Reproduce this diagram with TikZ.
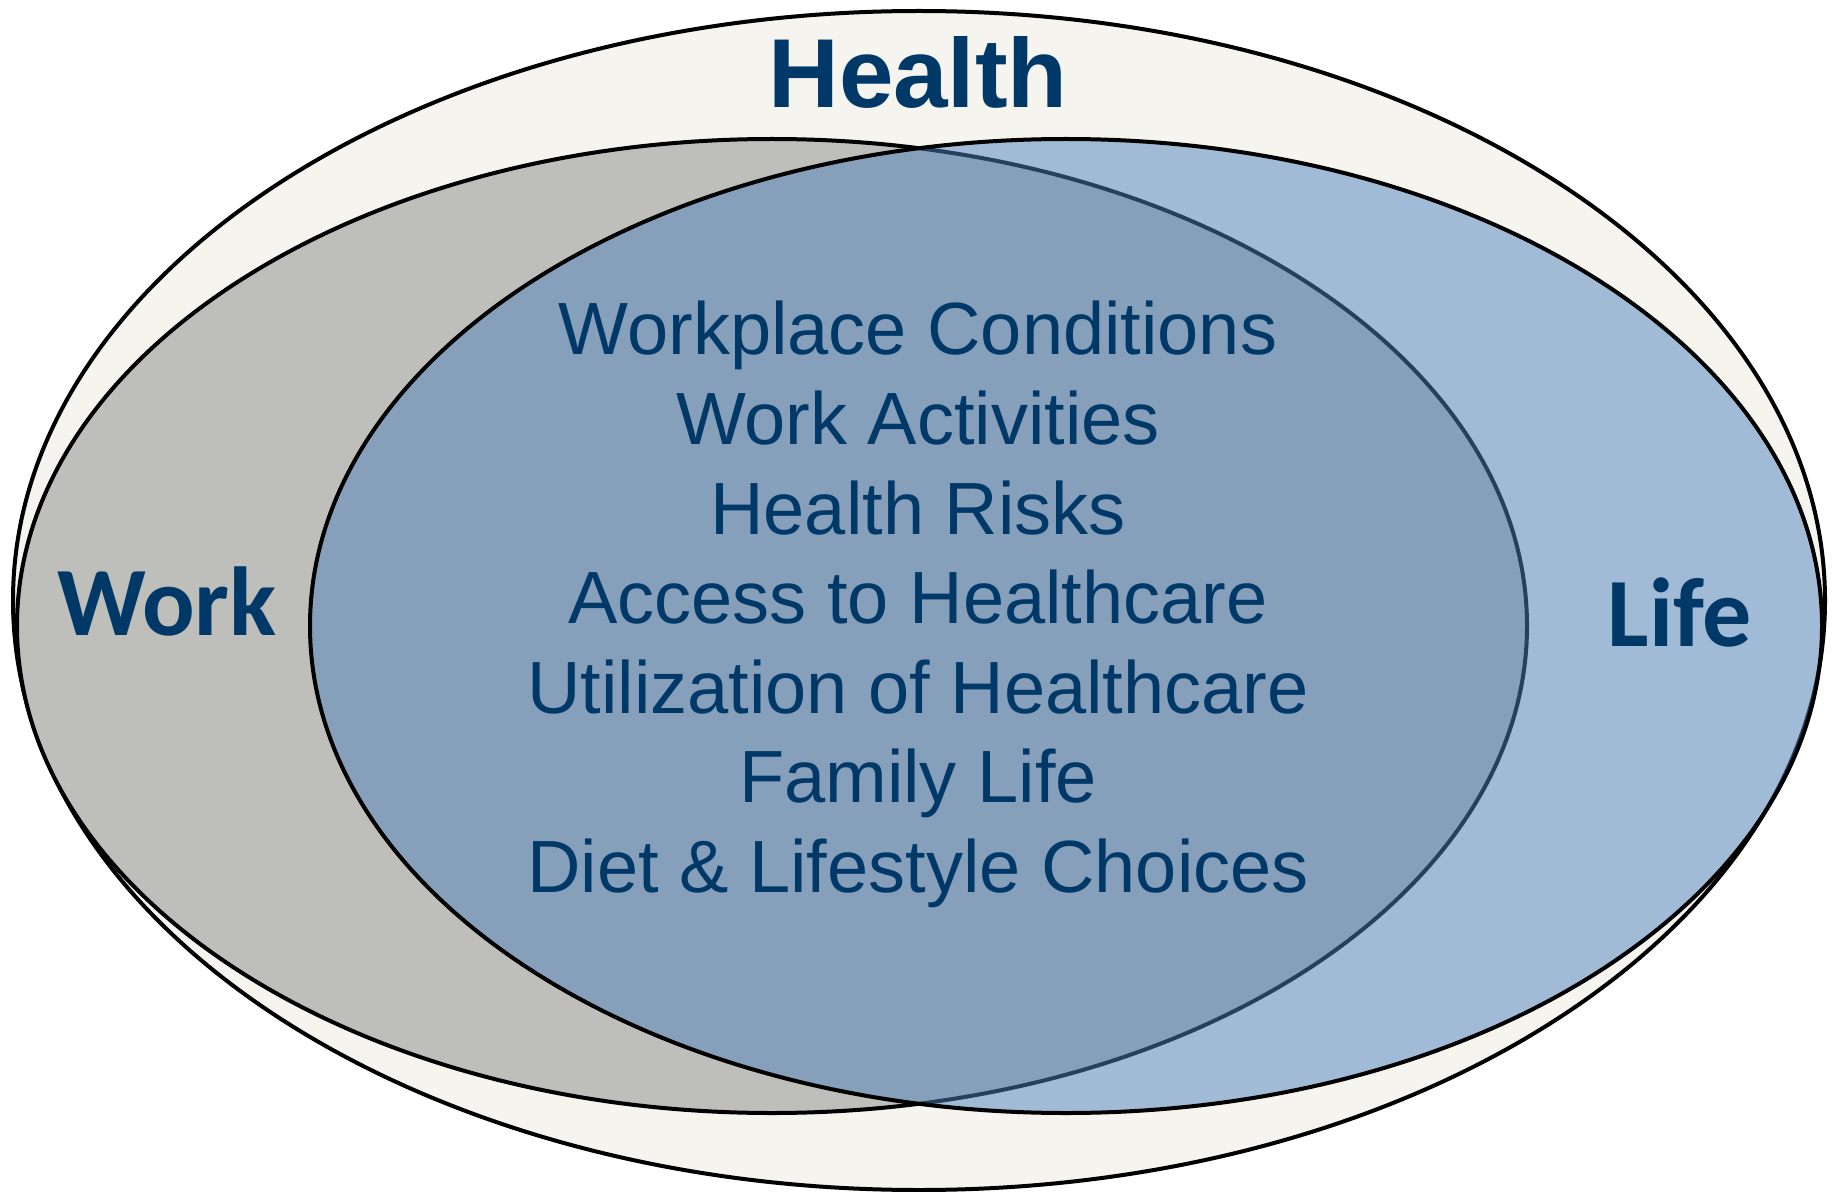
\documentclass[tikz,border=0pt]{standalone}
\usepackage{fontspec}
\setmainfont{Liberation Sans}
\newfontfamily\carlito{Carlito}
\definecolor{healthbg}{RGB}{245,244,239}
\definecolor{workgray}{RGB}{190,191,186}
\definecolor{lifeblue}{RGB}{79,129,189}
\definecolor{navy}{RGB}{0,56,104}
\tikzset{setline/.style = {draw=black, line width=2pt},
         itemtext/.style = {text=navy, anchor=base, inner sep=0pt,
                            font=\fontsize{37}{44}\selectfont},
         titletext/.style = {text=navy, anchor=base, inner sep=0pt,
                             font=\fontsize{49}{58}\selectfont\bfseries},
         settext/.style = {text=navy, anchor=base, inner sep=0pt,
                           font=\carlito\fontsize{49}{58}\selectfont\bfseries}}

\begin{document}
\begin{tikzpicture}[x=0.5pt, y=-0.5pt]
    \useasboundingbox (0,0) rectangle (1835,1192);

    % the three sets
    \draw[setline, fill=healthbg] (919,600.5) ellipse [x radius=906, y radius=589.5];
    \draw[setline, fill=workgray] (772,626) ellipse [x radius=755, y radius=487];
    \draw[setline, fill=lifeblue, fill opacity=0.5] (1066,626) ellipse [x radius=756, y radius=487];

    \node[titletext] (health) at (918,108) {Health};
    \node[settext] (work) at (167,635) {Work};
    \node[settext] (life) at (1680,646) {Life};

    % what work and life share
    \foreach \txt [count=\i] in {Workplace Conditions, Work Activities, Health Risks,
                                 Access to Healthcare, Utilization of Healthcare,
                                 Family Life, Diet \& Lifestyle Choices}
        \node[itemtext] (item\i) at (918,{355+89.5*(\i-1)}) {\txt};
  \end{tikzpicture}
\end{document}
